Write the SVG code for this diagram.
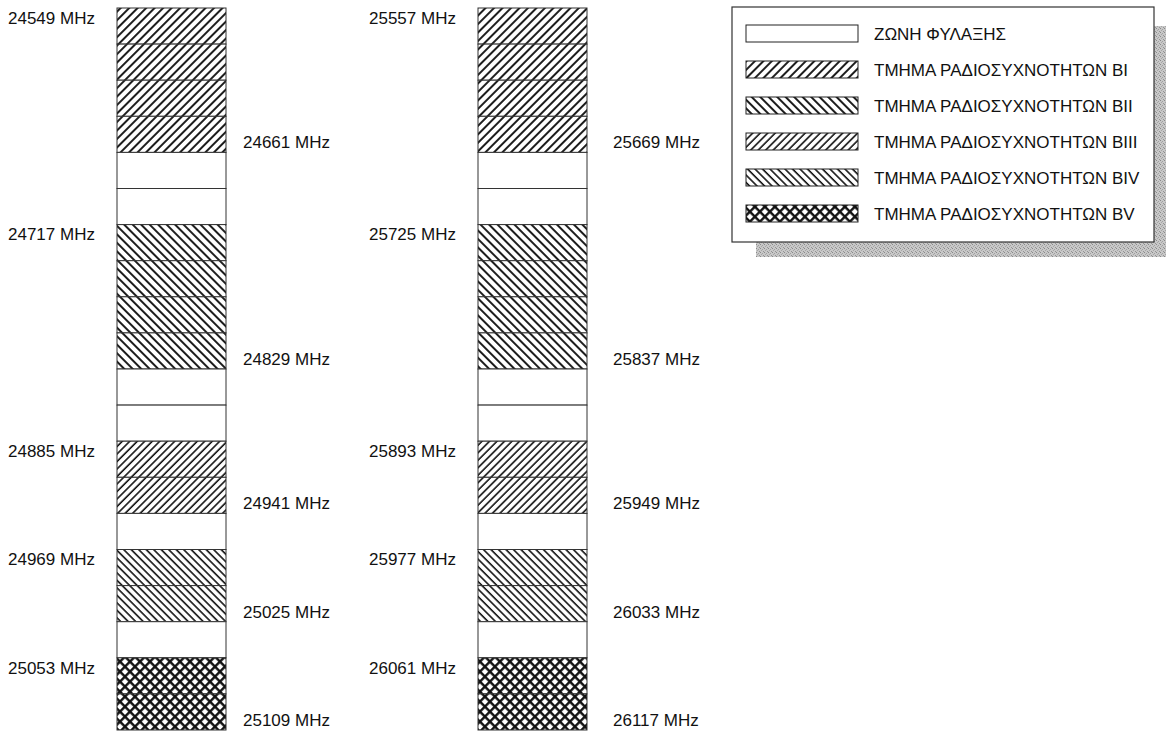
<svg xmlns="http://www.w3.org/2000/svg" width="1166" height="733" viewBox="0 0 1166 733">
<style>
  .lbl { font-family: "Liberation Sans", Arial, sans-serif; font-size: 17px; fill: #111; }
  .leg { font-family: "Liberation Sans", Arial, sans-serif; font-size: 17px; fill: #111; }
  .seg { stroke: #333; stroke-width: 1; }
  .g { fill: #fff; }
  .b1 { fill: url(#pB1); }
  .b2 { fill: url(#pB2); }
  .b3 { fill: url(#pB3); }
  .b4 { fill: url(#pB4); }
  .b5 { fill: url(#pB5); }
  .sw { stroke: #222; stroke-width: 1; }
</style>
<defs>
  <pattern id="pB1" patternUnits="userSpaceOnUse" width="6" height="10" patternTransform="rotate(45)">
    <rect width="6" height="10" fill="#fff"/>
    <line x1="1" y1="0" x2="1" y2="10" stroke="#111" stroke-width="1.9"/>
  </pattern>
  <pattern id="pB2" patternUnits="userSpaceOnUse" width="6" height="10" patternTransform="rotate(-45)">
    <rect width="6" height="10" fill="#fff"/>
    <line x1="1" y1="0" x2="1" y2="10" stroke="#111" stroke-width="1.9"/>
  </pattern>
  <pattern id="pB3" patternUnits="userSpaceOnUse" width="5.3" height="10" patternTransform="rotate(45)">
    <rect width="5.3" height="10" fill="#fff"/>
    <line x1="1" y1="0" x2="1" y2="10" stroke="#111" stroke-width="1.6"/>
  </pattern>
  <pattern id="pB4" patternUnits="userSpaceOnUse" width="5.3" height="10" patternTransform="rotate(-45)">
    <rect width="5.3" height="10" fill="#fff"/>
    <line x1="1" y1="0" x2="1" y2="10" stroke="#111" stroke-width="1.6"/>
  </pattern>
  <pattern id="pB5" patternUnits="userSpaceOnUse" width="7.07" height="7.07" patternTransform="rotate(45)">
    <rect width="7.07" height="7.07" fill="#fff"/>
    <line x1="1" y1="0" x2="1" y2="7.07" stroke="#111" stroke-width="2.8"/>
    <line x1="0" y1="1" x2="7.07" y2="1" stroke="#111" stroke-width="2.8"/>
  </pattern>
  <pattern id="pShade" patternUnits="userSpaceOnUse" width="4" height="4">
    <rect width="4" height="4" fill="#c8c8c8"/>
    <rect x="0" y="0" width="1" height="1" fill="#8a8a8a"/>
    <rect x="2" y="1" width="1" height="1" fill="#a0a0a0"/>
    <rect x="1" y="2" width="1" height="1" fill="#a6a6a6"/>
    <rect x="3" y="3" width="1" height="1" fill="#949494"/>
  </pattern>
</defs>
<rect width="1166" height="733" fill="#fff"/>

<!-- Column 1 -->
<g id="column1">
  <g id="c1-r0"><rect class="seg b1" x="117" y="8" width="109" height="36.1"/></g>
  <g id="c1-r1"><rect class="seg b1" x="117" y="44.1" width="109" height="36.1"/></g>
  <g id="c1-r2"><rect class="seg b1" x="117" y="80.2" width="109" height="36.1"/></g>
  <g id="c1-r3"><rect class="seg b1" x="117" y="116.3" width="109" height="36.1"/></g>
  <g id="c1-r4"><rect class="seg g" x="117" y="152.4" width="109" height="36.1"/></g>
  <g id="c1-r5"><rect class="seg g" x="117" y="188.5" width="109" height="36.1"/></g>
  <g id="c1-r6"><rect class="seg b2" x="117" y="224.6" width="109" height="36.1"/></g>
  <g id="c1-r7"><rect class="seg b2" x="117" y="260.7" width="109" height="36.1"/></g>
  <g id="c1-r8"><rect class="seg b2" x="117" y="296.8" width="109" height="36.1"/></g>
  <g id="c1-r9"><rect class="seg b2" x="117" y="332.9" width="109" height="36.1"/></g>
  <g id="c1-r10"><rect class="seg g" x="117" y="369" width="109" height="36.1"/></g>
  <g id="c1-r11"><rect class="seg g" x="117" y="405.1" width="109" height="36.1"/></g>
  <g id="c1-r12"><rect class="seg b3" x="117" y="441.2" width="109" height="36.1"/></g>
  <g id="c1-r13"><rect class="seg b3" x="117" y="477.3" width="109" height="36.1"/></g>
  <g id="c1-r14"><rect class="seg g" x="117" y="513.4" width="109" height="36.1"/></g>
  <g id="c1-r15"><rect class="seg b4" x="117" y="549.5" width="109" height="36.1"/></g>
  <g id="c1-r16"><rect class="seg b4" x="117" y="585.6" width="109" height="36.1"/></g>
  <g id="c1-r17"><rect class="seg g" x="117" y="621.7" width="109" height="36.1"/></g>
  <g id="c1-r18"><rect class="seg b5" x="117" y="657.8" width="109" height="36.1"/></g>
  <g id="c1-r19"><rect class="seg b5" x="117" y="693.9" width="109" height="36.1"/></g>
</g>
<g id="labels1">
  <text class="lbl" x="8" y="24">24549 MHz</text>
  <text class="lbl" x="243" y="148">24661 MHz</text>
  <text class="lbl" x="8" y="240">24717 MHz</text>
  <text class="lbl" x="243" y="365">24829 MHz</text>
  <text class="lbl" x="8" y="457">24885 MHz</text>
  <text class="lbl" x="243" y="509">24941 MHz</text>
  <text class="lbl" x="8" y="565">24969 MHz</text>
  <text class="lbl" x="243" y="618">25025 MHz</text>
  <text class="lbl" x="8" y="674">25053 MHz</text>
  <text class="lbl" x="243" y="726">25109 MHz</text>
</g>

<!-- Column 2 -->
<g id="column2">
  <g id="c2-r0"><rect class="seg b1" x="478" y="8" width="109" height="36.1"/></g>
  <g id="c2-r1"><rect class="seg b1" x="478" y="44.1" width="109" height="36.1"/></g>
  <g id="c2-r2"><rect class="seg b1" x="478" y="80.2" width="109" height="36.1"/></g>
  <g id="c2-r3"><rect class="seg b1" x="478" y="116.3" width="109" height="36.1"/></g>
  <g id="c2-r4"><rect class="seg g" x="478" y="152.4" width="109" height="36.1"/></g>
  <g id="c2-r5"><rect class="seg g" x="478" y="188.5" width="109" height="36.1"/></g>
  <g id="c2-r6"><rect class="seg b2" x="478" y="224.6" width="109" height="36.1"/></g>
  <g id="c2-r7"><rect class="seg b2" x="478" y="260.7" width="109" height="36.1"/></g>
  <g id="c2-r8"><rect class="seg b2" x="478" y="296.8" width="109" height="36.1"/></g>
  <g id="c2-r9"><rect class="seg b2" x="478" y="332.9" width="109" height="36.1"/></g>
  <g id="c2-r10"><rect class="seg g" x="478" y="369" width="109" height="36.1"/></g>
  <g id="c2-r11"><rect class="seg g" x="478" y="405.1" width="109" height="36.1"/></g>
  <g id="c2-r12"><rect class="seg b3" x="478" y="441.2" width="109" height="36.1"/></g>
  <g id="c2-r13"><rect class="seg b3" x="478" y="477.3" width="109" height="36.1"/></g>
  <g id="c2-r14"><rect class="seg g" x="478" y="513.4" width="109" height="36.1"/></g>
  <g id="c2-r15"><rect class="seg b4" x="478" y="549.5" width="109" height="36.1"/></g>
  <g id="c2-r16"><rect class="seg b4" x="478" y="585.6" width="109" height="36.1"/></g>
  <g id="c2-r17"><rect class="seg g" x="478" y="621.7" width="109" height="36.1"/></g>
  <g id="c2-r18"><rect class="seg b5" x="478" y="657.8" width="109" height="36.1"/></g>
  <g id="c2-r19"><rect class="seg b5" x="478" y="693.9" width="109" height="36.1"/></g>
</g>
<g id="labels2">
  <text class="lbl" x="369" y="24">25557 MHz</text>
  <text class="lbl" x="613" y="148">25669 MHz</text>
  <text class="lbl" x="369" y="240">25725 MHz</text>
  <text class="lbl" x="613" y="365">25837 MHz</text>
  <text class="lbl" x="369" y="457">25893 MHz</text>
  <text class="lbl" x="613" y="509">25949 MHz</text>
  <text class="lbl" x="369" y="565">25977 MHz</text>
  <text class="lbl" x="613" y="618">26033 MHz</text>
  <text class="lbl" x="369" y="674">26061 MHz</text>
  <text class="lbl" x="613" y="726">26117 MHz</text>
</g>

<!-- Legend -->
<g id="legend">
  <rect x="1154" y="26" width="12" height="231" fill="url(#pShade)"/>
  <rect x="756" y="242" width="410" height="15" fill="url(#pShade)"/>
  <rect x="732" y="7" width="422" height="235" fill="#fff" stroke="#333" stroke-width="1.2"/>
  <g id="leg-guard"><rect class="sw g" x="746" y="25" width="112" height="17"/><text class="leg" x="874" y="40">ΖΩΝΗ ΦΥΛΑΞΗΣ</text></g>
  <g id="leg-b1"><rect class="sw b1" x="746" y="61" width="112" height="17"/><text class="leg" x="874" y="76">ΤΜΗΜΑ ΡΑΔΙΟΣΥΧΝΟΤΗΤΩΝ ΒΙ</text></g>
  <g id="leg-b2"><rect class="sw b2" x="746" y="97" width="112" height="17"/><text class="leg" x="874" y="112">ΤΜΗΜΑ ΡΑΔΙΟΣΥΧΝΟΤΗΤΩΝ ΒΙΙ</text></g>
  <g id="leg-b3"><rect class="sw b3" x="746" y="133" width="112" height="17"/><text class="leg" x="874" y="148">ΤΜΗΜΑ ΡΑΔΙΟΣΥΧΝΟΤΗΤΩΝ ΒΙΙΙ</text></g>
  <g id="leg-b4"><rect class="sw b4" x="746" y="169" width="112" height="17"/><text class="leg" x="874" y="184">ΤΜΗΜΑ ΡΑΔΙΟΣΥΧΝΟΤΗΤΩΝ ΒΙV</text></g>
  <g id="leg-b5"><rect class="sw b5" x="746" y="205" width="112" height="17"/><text class="leg" x="874" y="220">ΤΜΗΜΑ ΡΑΔΙΟΣΥΧΝΟΤΗΤΩΝ ΒV</text></g>
</g>
</svg>
